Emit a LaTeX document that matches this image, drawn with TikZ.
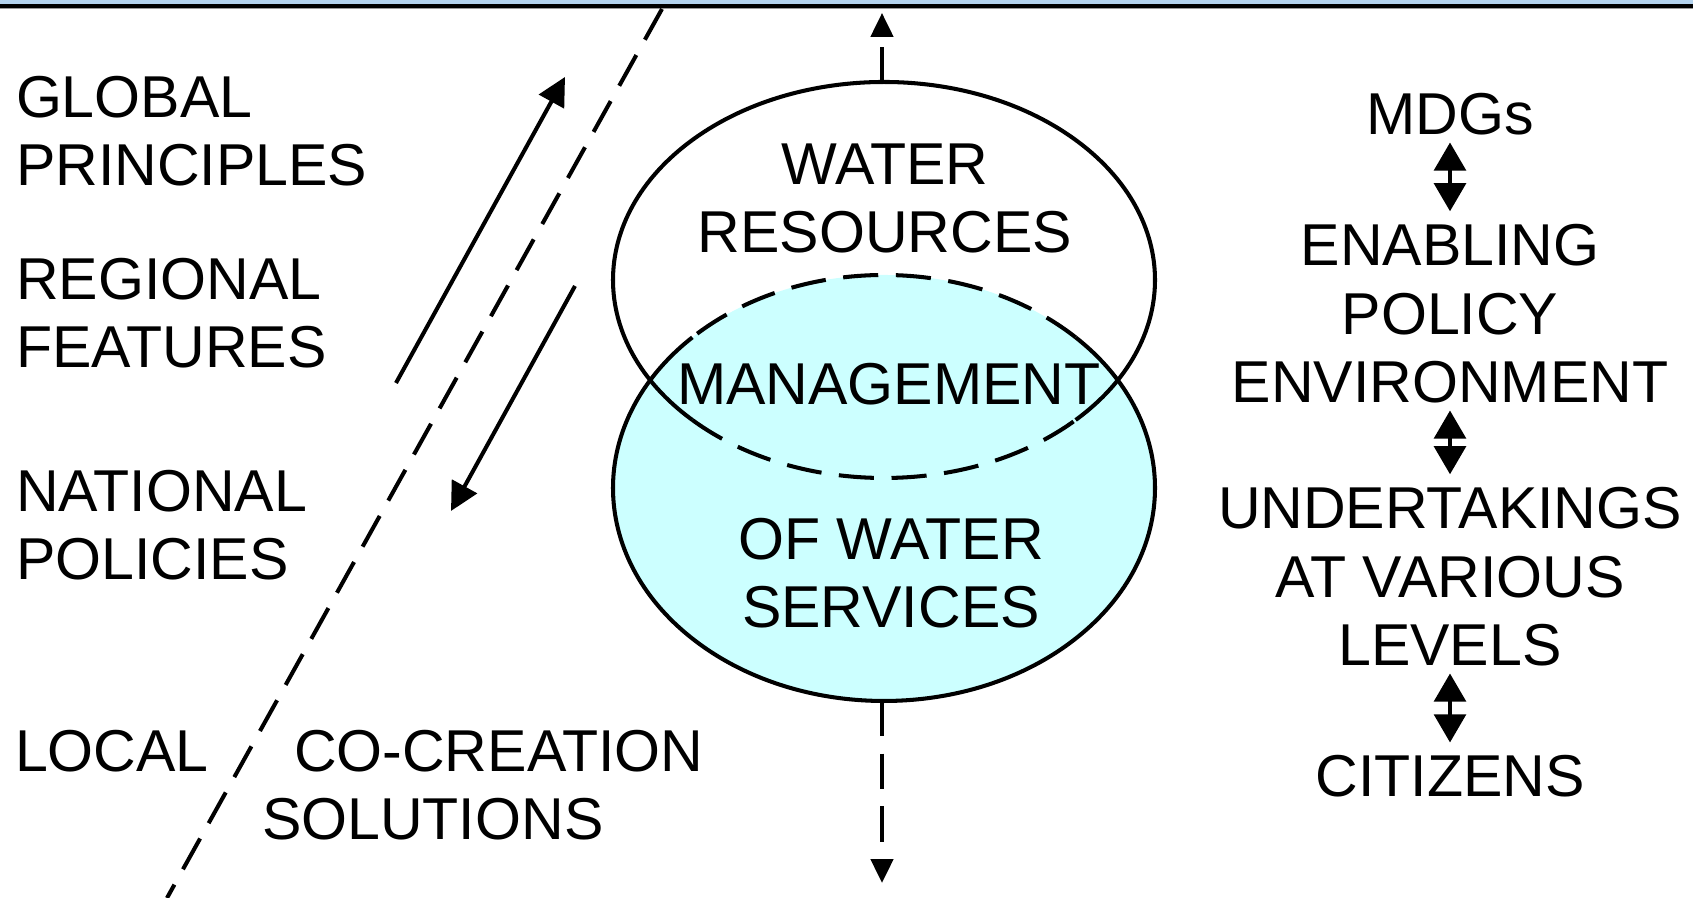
\documentclass[tikz,border=0pt]{standalone}
\usepackage{fontspec}
\setmainfont{Liberation Sans}
\usepackage{tikz}
\usepackage{xcolor}
\usetikzlibrary{arrows.meta}

\definecolor{bandblue}{RGB}{180,211,238}
\definecolor{servcyan}{RGB}{204,255,255}

\begin{document}
\begin{tikzpicture}[>={Triangle[width=8pt, length=8pt]}, x=0.01cm, y=0.01cm, line width=1.15pt,
    txt/.style={font=\fontsize{16.8}{19.5}\selectfont, inner sep=0pt},
    dashln/.style={dash pattern=on 10pt off 5pt}]
    \useasboundingbox (0,0) rectangle (1693,898);
    % Top band
    \fill[bandblue] (0,893.5) rectangle (1693,898);
    \fill[black] (0,889.5) rectangle (1693,893.5);
    \fill[black!40] (0,888.6) rectangle (1693,889.5);
%
    % Levels on the left
    \node[txt, anchor=base west, align=left] (glob) at (14,712) {GLOBAL\\PRINCIPLES};
    \node[txt, anchor=base west, align=left] (regi) at (14,530) {REGIONAL\\FEATURES};
    \node[txt, anchor=base west, align=left] (natl) at (14,318) {NATIONAL\\POLICIES};
    \node[txt, anchor=base west] (locl) at (13,126) {LOCAL};
    \node[txt, anchor=base west] (cocr) at (292,126) {CO-CREATION};
    \node[txt, anchor=base west] (solu) at (260,58) {SOLUTIONS};

    % Dividing line and the two flows
    \coordinate (sltop) at (662,889);
    \coordinate (slbot) at (167,0);
    \draw[dashln] (sltop) -- (slbot);
    \coordinate (upa) at (396,515);
    \coordinate (upb) at (565,821);
    \draw[->] (upa) -- (upb);
    \coordinate (dna) at (575,612);
    \coordinate (dnb) at (451,387);
    \draw[->] (dna) -- (dnb);
%
    % Water services (filled ellipse)
    \fill[servcyan] (884,410) ellipse [x radius=271, y radius=213];
    \draw (884,410) ++(135:271 and 213) arc[start angle=135, end angle=405, x radius=271, y radius=213];
    \draw[dashln] (884,410) ++(45:271 and 213) arc[start angle=45, end angle=135, x radius=271, y radius=213];
    % Water resources
    \draw (884,618) ++(-45:271 and 198) arc[start angle=-45, end angle=225, x radius=271, y radius=198];
    \draw[dashln] (884,618) ++(225:271 and 198) arc[start angle=225, end angle=315, x radius=271, y radius=198];

    \coordinate (rtop) at (882,816);
    \coordinate (rtip) at (882,885);
    \draw[dashln, -{Triangle[width=6.3pt, length=6.8pt]}] (rtop) -- (rtip);
    \coordinate (sbot) at (882,197);
    \coordinate (stip) at (882,15);
    \draw[dashln, -{Triangle[width=6.3pt, length=6.8pt]}] (sbot) -- (stip);

    \node[txt, anchor=base, align=center] (wres) at (885,645) {WATER\\RESOURCES};
    \node[txt, anchor=base] (mgmt) at (889,493) {MANAGEMENT};
    \node[txt, anchor=base, align=center] (wsrv) at (891,270) {OF WATER\\SERVICES};
%
    % Chain on the right
    \node[txt, anchor=base] (mdg) at (1450,763) {MDGs};
    \node[txt, anchor=base, align=center] (enab) at (1450,495) {ENABLING\\POLICY\\ENVIRONMENT};
    \node[txt, anchor=base, align=center] (undr) at (1450,232) {UNDERTAKINGS\\AT VARIOUS\\LEVELS};
    \node[txt, anchor=base] (citz) at (1450,101) {CITIZENS};
    \draw[{Triangle[width=9pt, length=8pt]}-{Triangle[width=9pt, length=8pt]}, shorten <=1.4pt, shorten >=3.2pt] (mdg) -- (enab);
    \draw[{Triangle[width=9pt, length=8pt]}-{Triangle[width=9pt, length=8pt]}, shorten <=1.4pt, shorten >=3.2pt] (enab) -- (undr);
    \draw[{Triangle[width=9pt, length=8pt]}-{Triangle[width=9pt, length=8pt]}, shorten <=1.4pt, shorten >=3.2pt] (undr) -- (citz);
\end{tikzpicture}
\end{document}
